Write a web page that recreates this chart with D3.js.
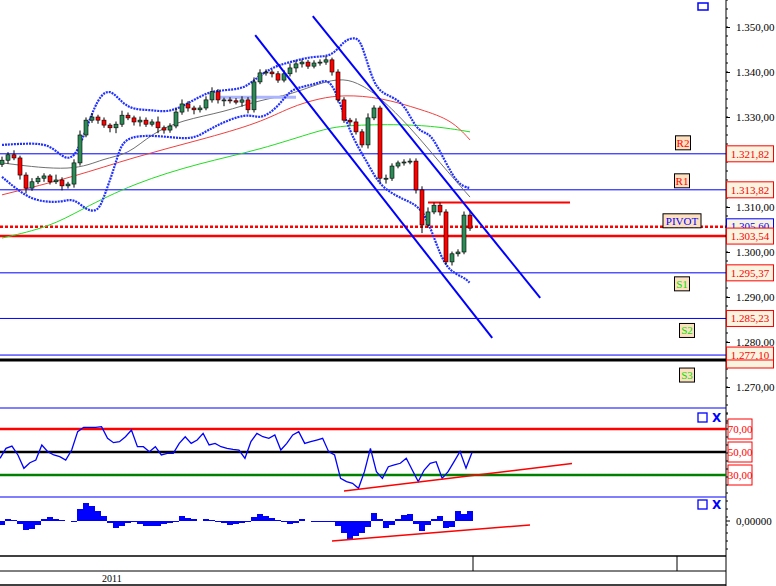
<!DOCTYPE html>
<html><head><meta charset="utf-8">
<script src="https://cdn.jsdelivr.net/npm/d3@7"></script>
<style>body{margin:0;background:#fff}svg{display:block}text{font-family:"Liberation Serif",serif;font-size:11px}</style>
</head><body><div id="app"></div>
<script>
const closes = [1.3204,1.3216,1.3209,1.3171,1.3142,1.3156,1.3164,1.3169,1.3156,1.3160,1.3147,1.3151,1.3198,1.3260,1.3293,1.3300,1.3293,1.3282,1.3276,1.3284,
  1.3304,1.3298,1.3289,1.3293,1.3284,1.3289,1.3276,1.3271,1.3280,1.3311,1.3329,1.3320,1.3316,1.3320,1.3338,1.3356,1.3338,1.3338,1.3336,1.3333,
  1.3338,1.3316,1.3378,1.3398,1.3400,1.3396,1.3382,1.3396,1.3409,1.3418,1.3422,1.3413,1.3420,1.3422,1.3427,1.3400,1.3338,1.3293,1.3289,1.3267,
  1.3238,1.3298,1.3320,1.3164,1.3164,1.3191,1.3198,1.3200,1.3202,1.3138,1.3060,1.3089,1.3104,1.3089,1.2978,1.2996,1.3000,1.3082,1.3053];
const firstOpen = 1.3195;
// wick lengths beyond the body, in 1/10000
const wickUp = [8,6,10,5,6,8,5,6,4,12,6,5,8,10,6,8,5,6,4,6,10,6,5,8,6,6,12,5,6,8,10,6,5,6,8,10,6,5,6,6,8,6,10,8,6,5,6,8,10,8,6,5,6,6,8,5,6,6,5,8,6,10,6,5,8,6,5,6,6,6,8,10,6,6,6,5,6,8,10];
const wickDn = [6,8,5,10,12,6,5,8,6,5,10,6,8,6,5,6,8,6,10,12,6,5,8,10,6,5,12,8,6,5,6,8,10,6,5,6,8,14,6,5,10,8,6,5,6,8,6,5,6,10,8,6,5,6,6,8,6,6,8,6,6,8,5,10,12,6,5,6,5,8,18,6,5,8,6,8,6,5,6];

// moving averages and bands: [candle index, price]
const maGray = [[0,1.3198],[12,1.3178],[17,1.3209],[21,1.3216],[25,1.3264],[30,1.3293],[37,1.3311],[43,1.3338],[48,1.3349],[53,1.3376],[57,1.3387],[60,1.3371],[63,1.3344],[68,1.3278],[73,1.3198],[78,1.3122]];
const maRed = [[0,1.3127],[12,1.3167],[22,1.3211],[33,1.3249],[43,1.3287],[48,1.3322],[53,1.3342],[57,1.3349],[63,1.3344],[70,1.3316],[75,1.3293],[78,1.3249]];
const maGreen = [[0,1.3031],[8,1.3056],[13,1.3093],[22,1.3153],[33,1.3198],[43,1.3227],[53,1.3271],[57,1.3282],[67,1.3284],[73,1.3278],[78,1.3267]];
const bbUp = [[0,1.3238],[5,1.3242],[8,1.3238],[10,1.3211],[12,1.3204],[14,1.3271],[16,1.3344],[18,1.3364],[20,1.3331],[22,1.3316],[25,1.3316],[28,1.3309],[32,1.3338],[35,1.3360],[40,1.3360],[42,1.3382],[45,1.3411],[48,1.3422],[52,1.3436],[55,1.3433],[57,1.3471],[59,1.3478],[60,1.3464],[62,1.3367],[64,1.3349],[67,1.3333],[69,1.3271],[71,1.3264],[72,1.3249],[74,1.3198],[76,1.3149],[78,1.3142]];
const bbDn = [[0,1.3167],[4,1.3122],[7,1.3111],[10,1.3111],[12,1.3120],[14,1.3093],[16,1.3089],[17,1.3122],[19,1.3198],[20,1.3249],[23,1.3260],[28,1.3256],[32,1.3249],[35,1.3278],[41,1.3311],[43,1.3293],[46,1.3322],[48,1.3360],[50,1.3367],[53,1.3376],[55,1.3389],[58,1.3260],[61,1.3198],[63,1.3144],[67,1.3116],[70,1.3100],[72,1.3033],[74,1.2960],[77,1.2944],[78,1.2931]];
const bbMid = [[36,1.3344],[49,1.3344]];

const levels = [
  {name:'R2', v:1.32182, c:'red'}, {name:'R1', v:1.31382, c:'red'},
  {name:'S1', v:1.29537, c:'#00e000'}, {name:'S2', v:1.28523, c:'#00e000'}, {name:'S3', v:1.27710, c:'#00e000'}];
const pivot = 1.30560, redLine = 1.30354, blackLine = 1.27600, resistShort = 1.31100;
const priceTicks = [1.35,1.34,1.33,1.31,1.30,1.29,1.28,1.27];
const channel = [[[42.2,1.3482],[81.7,1.2809]],[[51.8,1.3524],[89.7,1.2898]]];

const rsi = [44.5,53.2,55.2,47.4,35.8,40.7,43.0,56.1,50.3,47.4,45.9,43.0,51.7,67.7,71.5,71.5,71.5,72.0,61.9,58.1,
  59.0,63.3,69.1,54.6,54.6,50.3,54.6,47.4,48.8,48.8,57.5,63.3,57.5,60.4,66.2,56.1,57.5,54.6,53.2,52.3,
  51.7,44.5,59.0,66.2,63.3,61.9,64.8,51.7,57.5,64.8,67.7,57.5,59.0,60.4,61.9,50.3,47.4,27.1,24.2,22.8,
  18.4,32.9,53.2,32.9,27.1,37.2,38.7,40.2,44.5,34.3,24.2,34.3,40.2,41.6,27.1,32.9,41.6,50.5,36.0,49.5];
const rsiLevels = [70,50,30];
const rsiTrend = [[57,16],[95,40]];
const macd = [-4,2,1,-3,-9,-8,-4,2,4,2,1,0,-1,12,18,15,10,5,-2,-7,-5,-2,-1,-3,-5,-5,-5,-3,-2,-1,5,3,2,0,2,1,-1,-2,-4,-3,
  -2,-1,4,7,5,3,1,-1,-3,-2,2,0,-1,-1,-1,-1,-5,-12,-18,-15,-12,-6,8,2,-7,-4,2,6,7,-3,-10,-4,2,5,-7,-6,10,7,10];
const macdTrend = [[55,-20],[88,-4]];

const W = 776, H = 586, axisX = 726;
const svg = d3.select('#app').append('svg').attr('width', W).attr('height', H);
const x = d3.scaleLinear().domain([0, 78]).range([2, 470]);
const xR = d3.scaleLinear().domain([0, rsi.length - 1]).range([0, 472]);
const y = d3.scaleLinear().domain([1.27, 1.35]).range([387, 27]);
const yR = d3.scaleLinear().domain([30, 70]).range([475, 429]);
const yM = d3.scaleLinear().domain([-20, 20]).range([541, 501]);
const fmt = v => d3.format(',.2f')(v * 1000).replace(/,/g, '#').replace('.', ',').replace(/#/g, '.');

const hl = (yy, c, w, dash, x1 = 0, x2 = axisX) => svg.append('line').attr('x1', x1).attr('x2', x2)
  .attr('y1', yy).attr('y2', yy).attr('stroke', c).attr('stroke-width', w).attr('stroke-dasharray', dash || null);
levels.forEach(l => hl(y(l.v), '#0000ff', 1));
hl(y(blackLine), 'black', 3);
hl(y(pivot), 'red', 2.5, '3,2');
hl(y(redLine), 'red', 2.5);
hl(y(resistShort), 'red', 2, null, x(71), 570);

const line = d3.line().x(d => x(d[0])).y(d => y(d[1])).curve(d3.curveBasis);
const drawLine = (data, c, w, dash) => svg.append('path').datum(data).attr('d', line)
  .attr('fill', 'none').attr('stroke', c).attr('stroke-width', w).attr('stroke-dasharray', dash || null);
drawLine(maGreen, '#22dd22', 1);
drawLine(maRed, '#f04040', 1);
drawLine(maGray, '#707070', 1);
drawLine(bbMid, '#aab4ff', 3);
drawLine(bbUp, '#2030ff', 2.2, '2,1');
drawLine(bbDn, '#2030ff', 2.2, '2,1');

// candles
const candles = closes.map((c, i) => {
  const o = i ? closes[i - 1] : firstOpen;
  return {i, o, c, h: Math.max(o, c) + wickUp[i] / 1e4, l: Math.min(o, c) - wickDn[i] / 1e4};
});
const cg = svg.append('g');
cg.selectAll('line').data(candles).join('line')
  .attr('x1', d => x(d.i)).attr('x2', d => x(d.i)).attr('y1', d => y(d.h)).attr('y2', d => y(d.l))
  .attr('stroke', 'black');
cg.selectAll('rect').data(candles).join('rect')
  .attr('x', d => x(d.i) - 2).attr('width', 4)
  .attr('y', d => y(Math.max(d.o, d.c))).attr('height', d => Math.max(1, Math.abs(y(d.o) - y(d.c))))
  .attr('fill', d => d.c >= d.o ? '#2e8b57' : '#ff0000').attr('stroke', 'black').attr('stroke-width', 0.6);

// channel lines
const lin = d3.line().x(d => x(d[0])).y(d => y(d[1]));
channel.forEach(c => svg.append('path').datum(c).attr('d', lin).attr('stroke', '#0000ff').attr('stroke-width', 2).attr('fill', 'none'));

// right axis
svg.append('line').attr('x1', axisX).attr('x2', axisX).attr('y1', 0).attr('y2', H).attr('stroke', 'black');
const ax = svg.append('g').attr('transform', `translate(${axisX},0)`)
  .call(d3.axisRight(y).tickValues(priceTicks).tickFormat(fmt).tickSize(4));
ax.select('.domain').remove();
ax.selectAll('text').attr('x', 10).style('font-family', '"Liberation Serif",serif').style('font-size', '11px');
svg.append('g').selectAll('line').data(d3.range(1.262, 1.362, 0.002)).join('line')
  .attr('x1', axisX).attr('x2', axisX + 2).attr('y1', d => y(d)).attr('y2', d => y(d)).attr('stroke', 'black');

// level name boxes
const nameOff = {R2: -11, R1: -9, S1: 11, S2: 12, S3: 20};
const nameX = {R2: 683, R1: 682, S1: 682, S2: 687, S3: 687};
const box = (cx, cy, text, tc, bc, fill, w, h = 14) => {
  svg.append('rect').attr('x', cx - w / 2).attr('y', cy - h / 2).attr('width', w).attr('height', h)
    .attr('fill', fill).attr('stroke', bc);
  svg.append('text').attr('x', cx).attr('y', cy + 4).attr('text-anchor', 'middle').attr('fill', tc).text(text);
};
levels.forEach(l => box(nameX[l.name], y(l.v) + nameOff[l.name], l.name, l.c, 'black', '#fde0c0', 15));
box(682, y(pivot) - 6, 'PIVOT', '#0000ff', 'black', '#fde0c0', 38);
box(750, y(pivot) - 1, fmt(pivot), '#0000ff', '#0000ff', '#f8f4e0', 47);
[...levels.map(l => l.v), redLine].forEach(v => box(750, y(v), fmt(v), 'red', 'red', '#f8f4e0', 47, 16));
svg.append('rect').attr('x', 726.5).attr('y', y(blackLine)).attr('width', 47).attr('height', 8).attr('fill', '#f8f4e0').attr('stroke', 'red');
svg.append('rect').attr('x', 698).attr('y', 3).attr('width', 10).attr('height', 7).attr('fill', 'none').attr('stroke', '#0000ff').attr('stroke-width', 1.5);

// panel separators
[408, 497].forEach(yy => hl(yy, '#0000ff', 1));

// RSI panel
const rsiCol = {70: 'red', 50: 'black', 30: 'green'};
rsiLevels.forEach(v => { hl(yR(v), rsiCol[v], 2.5); box(740, yR(v), d3.format('.2f')(v).replace('.', ','), 'red', 'red', '#fff', 24, 20); });
svg.append('path').datum(rsi).attr('d', d3.line().x((d, i) => xR(i)).y(d => yR(d)))
  .attr('fill', 'none').attr('stroke', '#0000ff').attr('stroke-width', 1.3);
svg.append('path').datum(rsiTrend).attr('d', d3.line().x(d => x(d[0])).y(d => yR(d[1])))
  .attr('stroke', 'red').attr('stroke-width', 1.5).attr('fill', 'none');

// MACD panel
svg.append('g').selectAll('rect').data(macd).join('rect')
  .attr('x', (d, i) => x(i) - 3).attr('width', 6)
  .attr('y', d => yM(Math.max(0, d))).attr('height', d => Math.abs(yM(d) - yM(0)))
  .attr('fill', '#0000ff');
svg.append('path').datum(macdTrend).attr('d', d3.line().x(d => x(d[0])).y(d => yM(d[1])))
  .attr('stroke', 'red').attr('stroke-width', 1.5).attr('fill', 'none');
svg.append('text').attr('x', 736).attr('y', yM(0) + 4).text('0,00000');
svg.append('line').attr('x1', axisX).attr('x2', axisX + 4).attr('y1', yM(0)).attr('y2', yM(0)).attr('stroke', 'black');
d3.range(413, 556, 8).forEach(yy => svg.append('line').attr('x1', axisX).attr('x2', axisX + 2).attr('y1', yy).attr('y2', yy).attr('stroke', 'black'));

// panel icons
[413, 500].forEach(yy => {
  svg.append('rect').attr('x', 698).attr('y', yy).attr('width', 9).attr('height', 9).attr('fill', 'none').attr('stroke', '#0000ff').attr('stroke-width', 1.3);
  svg.append('text').attr('x', 712).attr('y', yy + 9).attr('fill', '#0000ff').style('font-family', 'DejaVu Sans').style('font-size', '12px').style('font-weight', 'bold').text('X');
});

// time axis
hl(556, 'black', 1.5); hl(571, 'black', 1); hl(585, 'black', 1.5);
[473, 677].forEach(xx => svg.append('line').attr('x1', xx).attr('x2', xx).attr('y1', 556).attr('y2', 571).attr('stroke', 'black'));
svg.append('text').attr('x', 102).attr('y', 582).style('font-size', '10px').text('2011');
</script></body></html>
